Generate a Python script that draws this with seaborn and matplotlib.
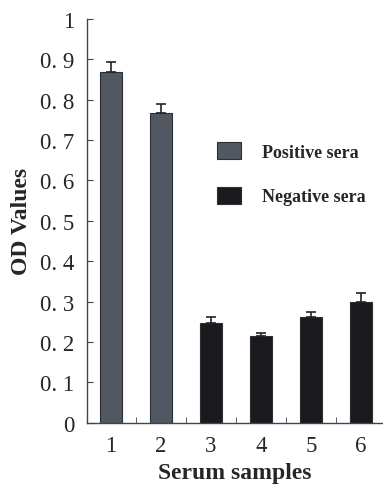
import matplotlib
matplotlib.use("Agg")
import matplotlib.pyplot as plt
import seaborn as sns
import pandas as pd
import numpy as np
from matplotlib.ticker import FixedLocator

samples = [1, 2, 3, 4, 5, 6]
groups = ["Positive sera", "Positive sera", "Negative sera", "Negative sera", "Negative sera", "Negative sera"]
od_values = [0.868, 0.766, 0.248, 0.214, 0.261, 0.299]
od_errors = [0.025, 0.023, 0.015, 0.009, 0.013, 0.023]
y_ticks = [0, 0.1, 0.2, 0.3, 0.4, 0.5, 0.6, 0.7, 0.8, 0.9, 1.0]
y_tick_labels = ["0", "0. 1", "0. 2", "0. 3", "0. 4", "0. 5", "0. 6", "0. 7", "0. 8", "0. 9", "1"]

sns.set_style("ticks")
plt.rcParams["font.family"] = ["Liberation Serif", "DejaVu Serif"]

df = pd.DataFrame({"sample": samples, "group": groups, "od": od_values})

fig = plt.figure(figsize=(3.83, 4.85), dpi=100)
ax = fig.add_axes([0.227, 0.126, 0.773, 0.833])

palette = {"Positive sera": "#4e5765", "Negative sera": "#1a1a1c"}
sns.barplot(data=df, x="sample", y="od", hue="group", dodge=False, native_scale=True,
            width=0.44, palette=palette, errorbar=None, ax=ax,
            edgecolor="#2a2f38", linewidth=0.8,
            hue_order=["Positive sera", "Negative sera"])

ax.errorbar(samples, od_values, yerr=[np.zeros(len(od_errors)), od_errors], fmt="none",
            ecolor="#222", elinewidth=1.2, capsize=3.3, capthick=1.2)

ax.set_xlim(0.52, 6.44)
ax.set_ylim(0, 1.0)
ax.set_yticks(y_ticks)
ax.set_yticklabels(y_tick_labels, fontsize=16.5)
ax.set_xticks(samples)
ax.set_xticklabels([str(s) for s in samples], fontsize=16.5)
ax.xaxis.set_minor_locator(FixedLocator([1.5, 2.5, 3.5, 4.5, 5.5]))
ax.tick_params(axis="x", which="major", length=0, pad=9)
ax.tick_params(axis="x", which="minor", direction="in", length=4, color="#3a4656")
ax.tick_params(axis="y", direction="in", length=4, color="#3a4656", pad=9)

for s in ["top", "right"]:
    ax.spines[s].set_visible(False)
for s in ["left", "bottom"]:
    ax.spines[s].set_color("#3a4656")
    ax.spines[s].set_linewidth(1.0)

ax.set_xlabel("Serum samples", fontsize=17, fontweight="bold", labelpad=4)
ax.set_ylabel("OD Values", fontsize=17, fontweight="bold", labelpad=6)

leg = ax.legend(loc="upper left", bbox_to_anchor=(0.385, 0.735), frameon=False,
                fontsize=13, handlelength=1.3, handleheight=1.05, labelspacing=1.45,
                handletextpad=1.2)
for t in leg.get_texts():
    t.set_fontweight("bold")

fig.savefig("out.png", dpi=100)
